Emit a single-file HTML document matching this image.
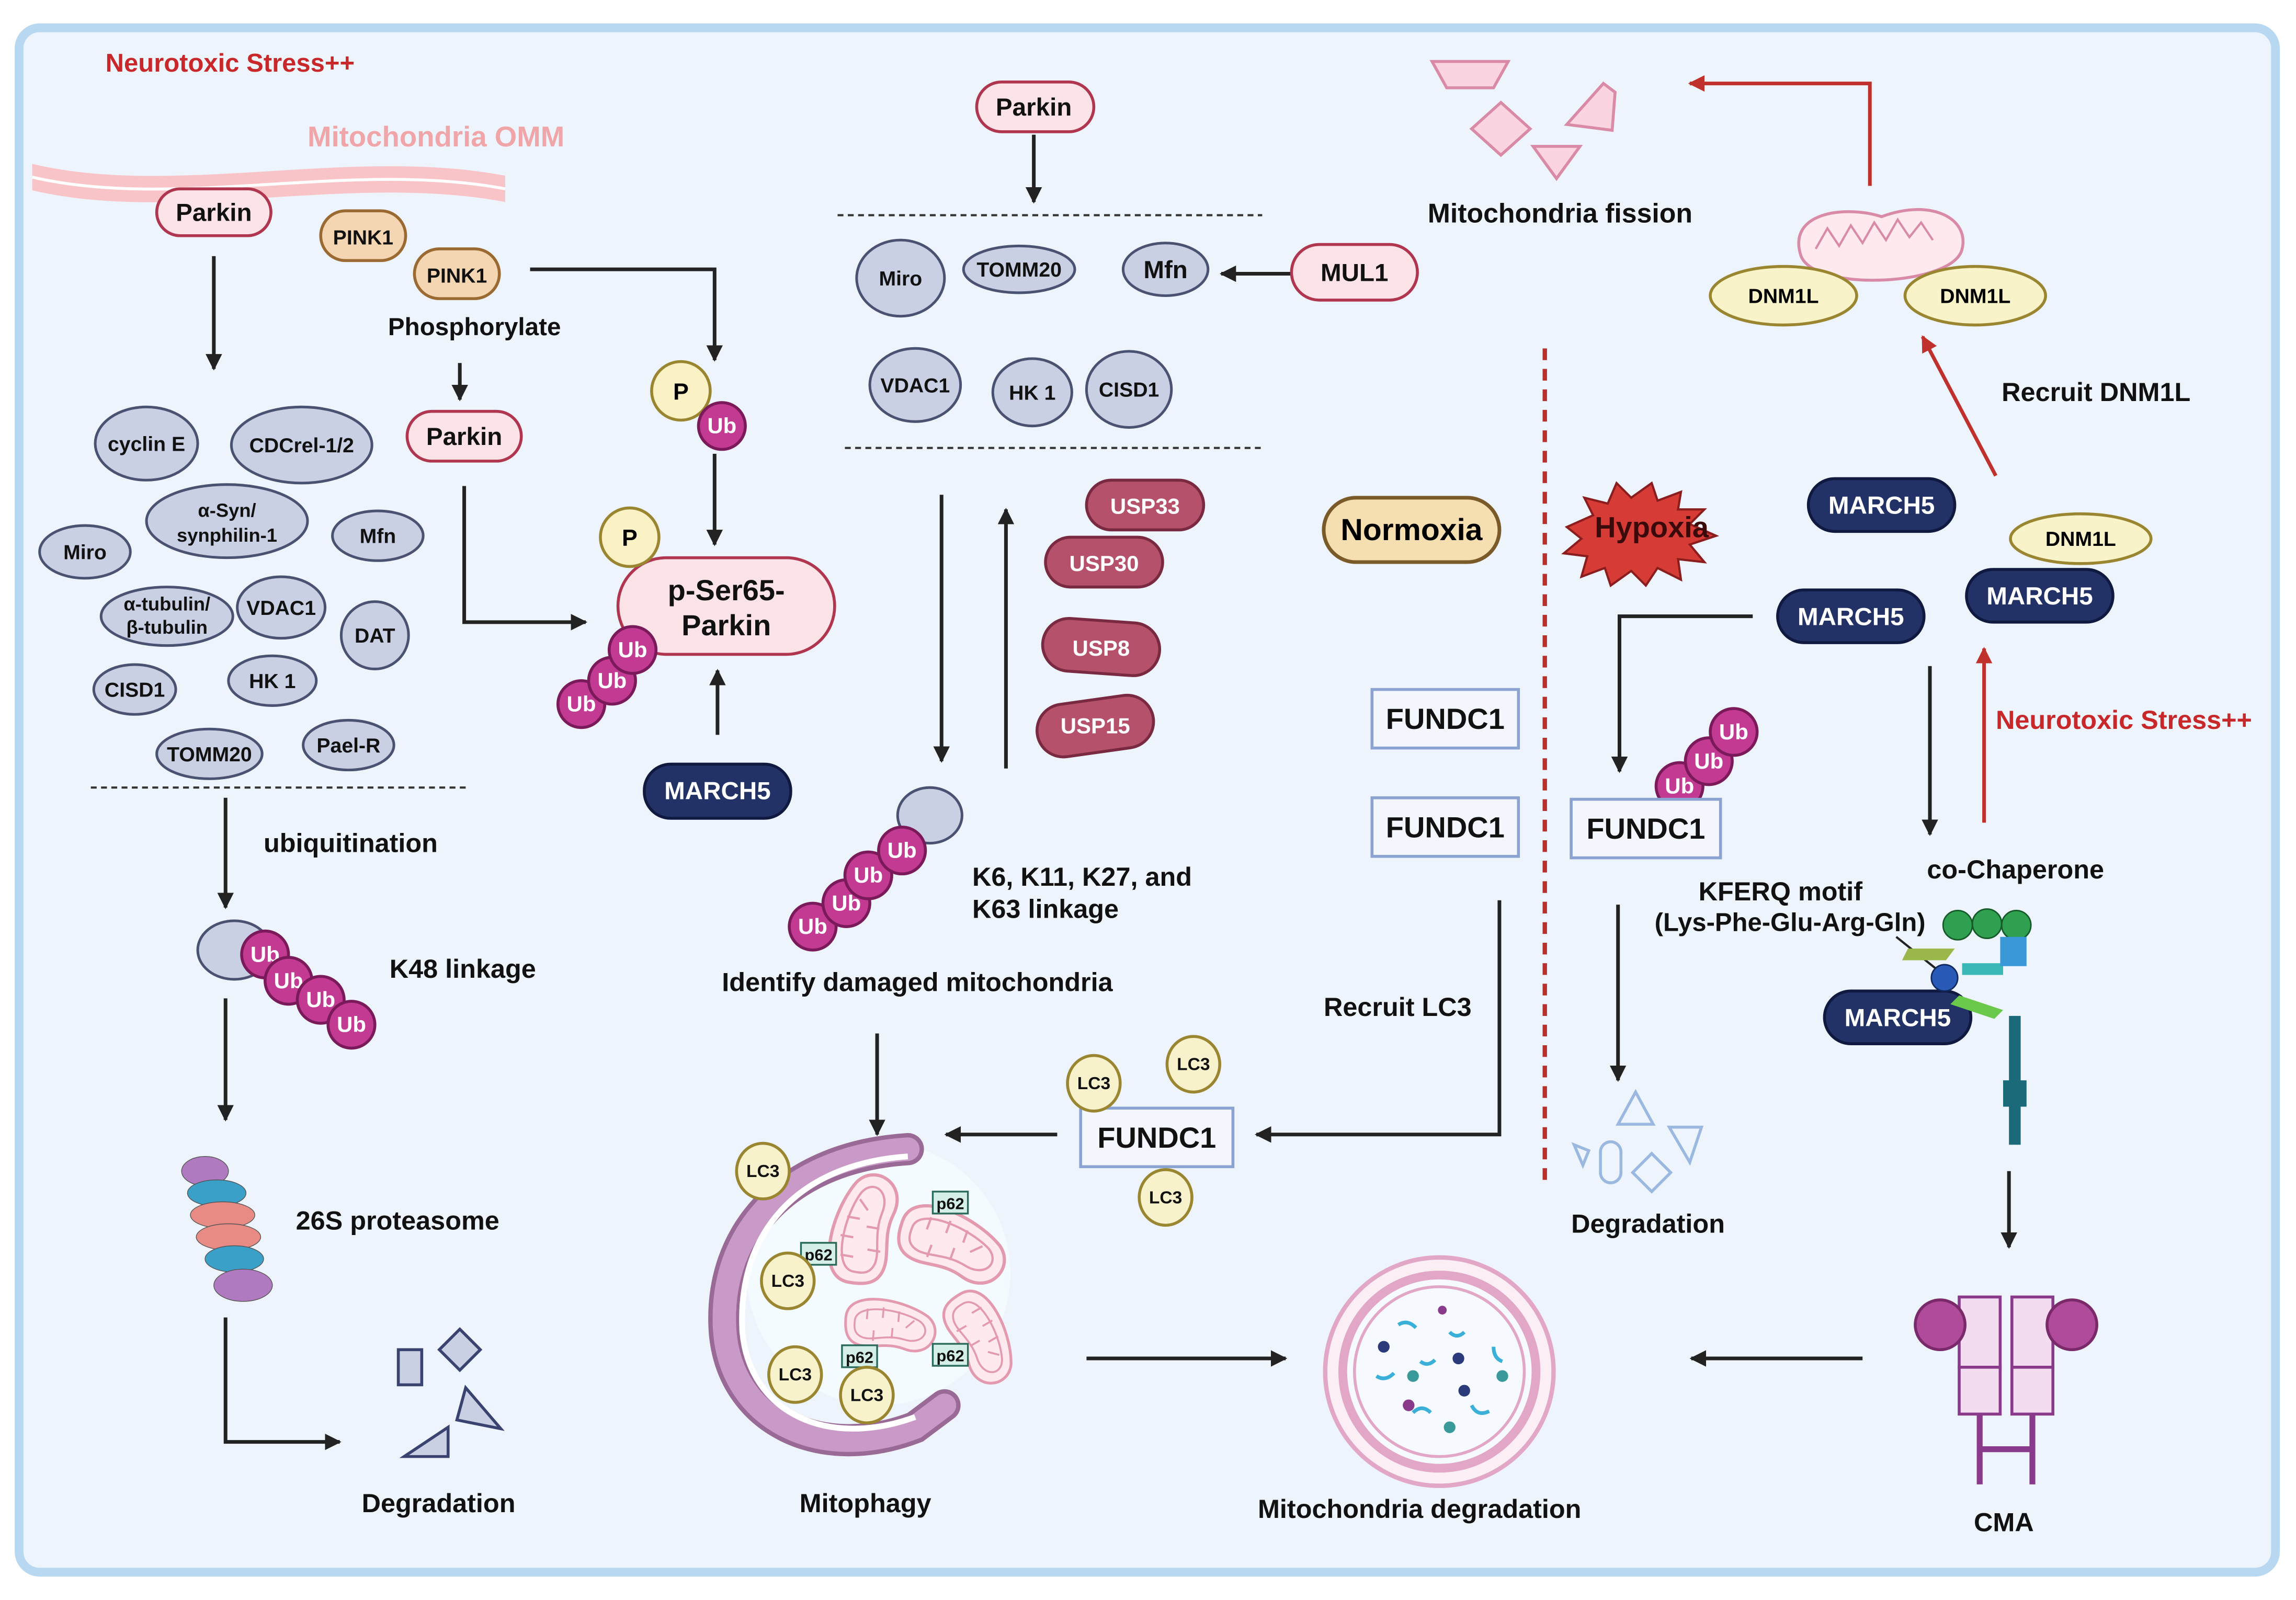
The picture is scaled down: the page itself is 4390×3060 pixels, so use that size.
<!DOCTYPE html>
<html><head><meta charset="utf-8"><style>
html,body{margin:0;padding:0;background:#fff}
svg{display:block}
text{font-family:"Liberation Sans",sans-serif;font-weight:bold}
</style></head><body>
<svg width="4390" height="3060" viewBox="0 0 1568 1093" xmlns="http://www.w3.org/2000/svg">
<defs>
<marker id="a" viewBox="0 0 10 10" refX="9" refY="5" markerWidth="4.5" markerHeight="4.5" orient="auto"><path d="M0,0L10,5L0,10z" fill="#222"/></marker>
<marker id="r" viewBox="0 0 10 10" refX="9" refY="5" markerWidth="4.5" markerHeight="4.5" orient="auto"><path d="M0,0L10,5L0,10z" fill="#c0302c"/></marker>
<g id="ub"><circle r="16" fill="#c23a92" stroke="#7a1a5a" stroke-width="2"/><text y="5" text-anchor="middle" font-size="15" fill="#fff">Ub</text></g>
<g id="lc3"><ellipse rx="18" ry="19" fill="#f8f2cc" stroke="#9a8530" stroke-width="2"/><text y="4" text-anchor="middle" font-size="12" fill="#111">LC3</text></g>
<g id="mito"><path d="M-32,-4 C-32,-26 10,-22 30,-10 C44,0 34,22 14,16 C0,12 -10,18 -20,16 C-30,14 -32,6 -32,-4Z" fill="#fde9ee" stroke="#e39aae" stroke-width="2"/><path d="M-25,-2 C-25,-16 8,-14 24,-6 C34,0 28,12 14,9 C0,6 -10,12 -18,10 C-25,8 -25,3 -25,-2Z" fill="none" stroke="#e39aae" stroke-width="1.4"/><path d="M-16,-12v8M-4,-14v8M8,-12v8M20,-6l-6,6M-10,12v-8M4,9v-8" stroke="#e39aae" stroke-width="1.4"/></g>
</defs>
<rect width="1568" height="1093" fill="#fff"/>
<rect x="13" y="19" width="1541" height="1055" rx="14" fill="#eef4fc" stroke="#b8d8f1" stroke-width="6"/>
<g stroke="#222" stroke-width="2.5" fill="none" marker-end="url(#a)">
<path d="M146,175V252"/><path d="M314,248V273"/><path d="M362,184H488V246"/><path d="M488,310V372"/>
<path d="M317,332V425H400"/><path d="M490,502V458"/><path d="M706,92V138"/><path d="M882,187H834"/>
<path d="M643,338V520"/><path d="M687,525V348"/><path d="M154,545V620"/><path d="M154,682V765"/>
<path d="M154,900V985H232"/><path d="M599,706V775"/><path d="M722,775H646"/><path d="M1024,615V775H858"/>
<path d="M742,928H878"/><path d="M1272,928H1155"/><path d="M1197,421H1106V527"/><path d="M1105,618V738"/>
<path d="M1318,455V570"/><path d="M1372,800V852"/>
</g>
<g stroke="#c0302c" stroke-width="2.5" fill="none" marker-end="url(#r)">
<path d="M1277,127V57H1154"/><path d="M1363,325L1313,230"/><path d="M1355,562V443"/>
</g>
<g stroke="#333" stroke-width="1.5" stroke-dasharray="4,3"><path d="M62,538H320"/><path d="M572,147H862"/><path d="M577,306H862"/></g>
<path d="M1055,238V812" stroke="#b8302e" stroke-width="3" stroke-dasharray="8,6"/>
<text x="72" y="49" font-size="17.5" fill="#c8282a">Neurotoxic Stress++</text>
<path d="M22,112 C120,135 240,100 345,120 L345,138 C240,118 120,153 22,130Z" fill="#f9c4c8"/>
<path d="M22,121 C120,144 240,109 345,129" stroke="#fff" stroke-width="2" fill="none"/>
<text x="210" y="100" font-size="19.5" fill="#f0a5a8">Mitochondria OMM</text>
<g stroke-width="2">
<rect x="107" y="129" width="78" height="32" rx="16" fill="#fbe3e8" stroke="#b0354f"/>
<rect x="219" y="144" width="58" height="34" rx="17" fill="#f5d6b2" stroke="#9a6a32"/>
<rect x="283" y="170" width="58" height="34" rx="17" fill="#f5d6b2" stroke="#9a6a32"/>
<rect x="278" y="281" width="78" height="34" rx="17" fill="#fbe3e8" stroke="#b0354f"/>
<rect x="667" y="56" width="80" height="34" rx="17" fill="#fbe3e8" stroke="#b0354f"/>
<rect x="882" y="167" width="86" height="38" rx="19" fill="#fbe3e8" stroke="#b0354f"/>
<rect x="422" y="381" width="148" height="66" rx="33" fill="#fbe3e8" stroke="#b0354f"/>
</g>
<g font-size="17" text-anchor="middle" fill="#111">
<text x="146" y="151">Parkin</text><text x="248" y="167" font-size="14">PINK1</text><text x="312" y="193" font-size="14">PINK1</text>
<text x="317" y="304">Parkin</text><text x="706" y="79">Parkin</text><text x="925" y="192">MUL1</text>
<text x="496" y="410" font-size="20">p-Ser65-</text><text x="496" y="434" font-size="20">Parkin</text>
<text x="324" y="229" font-size="17">Phosphorylate</text>
</g>
<g fill="#c9d0e3" stroke="#4a5272" stroke-width="1.8">
<ellipse cx="100" cy="303" rx="35" ry="25"/><ellipse cx="206" cy="304" rx="48" ry="26"/><ellipse cx="155" cy="356" rx="55" ry="25"/>
<ellipse cx="58" cy="377" rx="31" ry="18"/><ellipse cx="258" cy="366" rx="31" ry="17"/><ellipse cx="114" cy="421" rx="45" ry="20"/>
<ellipse cx="192" cy="415" rx="30" ry="21"/><ellipse cx="256" cy="434" rx="23" ry="23"/><ellipse cx="92" cy="471" rx="28" ry="17"/>
<ellipse cx="186" cy="465" rx="30" ry="17"/><ellipse cx="143" cy="515" rx="36" ry="17"/><ellipse cx="238" cy="509" rx="31" ry="17"/>
<ellipse cx="160" cy="649" rx="25" ry="20"/>
<ellipse cx="615" cy="190" rx="30" ry="26"/><ellipse cx="696" cy="184" rx="38" ry="16"/><ellipse cx="796" cy="184" rx="29" ry="18"/>
<ellipse cx="625" cy="263" rx="31" ry="25"/><ellipse cx="705" cy="268" rx="27" ry="23"/><ellipse cx="771" cy="266" rx="29" ry="26"/>
<ellipse cx="635" cy="557" rx="22" ry="19"/>
</g>
<g font-size="14" text-anchor="middle" fill="#111">
<text x="100" y="308">cyclin E</text><text x="206" y="309">CDCrel-1/2</text><text x="155" y="353" font-size="13">α-Syn/</text><text x="155" y="370" font-size="13">synphilin-1</text>
<text x="58" y="382">Miro</text><text x="258" y="371">Mfn</text><text x="114" y="417" font-size="13">α-tubulin/</text><text x="114" y="433" font-size="13">β-tubulin</text>
<text x="192" y="420">VDAC1</text><text x="256" y="439">DAT</text><text x="92" y="476">CISD1</text><text x="186" y="470">HK 1</text>
<text x="143" y="520">TOMM20</text><text x="238" y="514">Pael-R</text>
<text x="615" y="195">Miro</text><text x="696" y="189">TOMM20</text><text x="796" y="190" font-weight="normal" font-size="17">Mfn</text>
<text x="625" y="268">VDAC1</text><text x="705" y="273">HK 1</text><text x="771" y="271">CISD1</text>
</g>
<g font-size="18" fill="#111">
<text x="180" y="582">ubiquitination</text><text x="266" y="668">K48 linkage</text><text x="202" y="840">26S proteasome</text>
<text x="247" y="1033">Degradation</text><text x="664" y="605">K6, K11, K27, and</text><text x="664" y="627">K63 linkage</text>
<text x="493" y="677">Identify damaged mitochondria</text><text x="546" y="1033">Mitophagy</text><text x="904" y="694">Recruit LC3</text>
<text x="859" y="1037">Mitochondria degradation</text><text x="975" y="152" font-size="18.5">Mitochondria fission</text>
<text x="1367" y="274">Recruit DNM1L</text><text x="1073" y="842">Degradation</text><text x="1316" y="600">co-Chaperone</text>
<text x="1160" y="615">KFERQ motif</text><text x="1130" y="636" font-weight="normal" font-size="17.5">(Lys-Phe-Glu-Arg-Gln)</text>
<text x="1348" y="1046">CMA</text><text x="1363" y="498" fill="#c8282a">Neurotoxic Stress++</text>
</g>
<use href="#ub" x="181" y="652"/><use href="#ub" x="197" y="670"/><use href="#ub" x="219" y="683"/><use href="#ub" x="240" y="700"/>
<use href="#ub" x="555" y="633"/><use href="#ub" x="578" y="617"/><use href="#ub" x="593" y="598"/><use href="#ub" x="616" y="581"/>
<use href="#ub" x="397" y="481"/><use href="#ub" x="418" y="465"/><use href="#ub" x="432" y="444"/>
<use href="#ub" x="1147" y="537"/><use href="#ub" x="1167" y="520"/><use href="#ub" x="1184" y="500"/>
<g fill="#faf1c4" stroke="#9a8530" stroke-width="2"><circle cx="465" cy="267" r="20"/><circle cx="430" cy="367" r="20"/></g>
<text x="465" y="273" font-size="16" text-anchor="middle">P</text><text x="430" y="373" font-size="16" text-anchor="middle">P</text>
<use href="#ub" x="493" y="291"/>
<g fill="#b5516b" stroke="#7a2a40" stroke-width="2">
<rect x="742" y="328" width="80" height="34" rx="17"/><rect x="714" y="367" width="80" height="34" rx="17"/>
<rect x="712" y="424" width="80" height="36" rx="18" transform="rotate(4 752 442)"/><rect x="708" y="478" width="80" height="36" rx="18" transform="rotate(-8 748 496)"/>
</g>
<g font-size="15" fill="#fff" text-anchor="middle"><text x="782" y="351">USP33</text><text x="754" y="390">USP30</text><text x="752" y="448">USP8</text><text x="748" y="501">USP15</text></g>
<g fill="#233266" stroke="#101a40" stroke-width="2">
<rect x="440" y="522" width="100" height="37" rx="18"/><rect x="1235" y="327" width="100" height="36" rx="18"/>
<rect x="1214" y="403" width="100" height="36" rx="18"/><rect x="1343" y="389" width="100" height="36" rx="18"/><rect x="1246" y="677" width="100" height="36" rx="18"/>
</g>
<g font-size="17" fill="#fff" text-anchor="middle"><text x="490" y="546">MARCH5</text><text x="1285" y="351">MARCH5</text><text x="1264" y="427">MARCH5</text><text x="1393" y="413">MARCH5</text><text x="1296" y="701">MARCH5</text></g>
<g fill="#f3f6fc" stroke="#8aa3d2" stroke-width="2">
<rect x="937" y="471" width="100" height="40"/><rect x="937" y="545" width="100" height="40"/><rect x="738" y="757" width="104" height="40"/><rect x="1073" y="546" width="102" height="40"/>
</g>
<g font-size="20" text-anchor="middle" fill="#111"><text x="987" y="498">FUNDC1</text><text x="987" y="572">FUNDC1</text><text x="790" y="784">FUNDC1</text><text x="1124" y="573">FUNDC1</text></g>
<use href="#lc3" x="747" y="740"/><use href="#lc3" x="815" y="727"/><use href="#lc3" x="796" y="818"/>
<rect x="904" y="340" width="120" height="44" rx="22" fill="#f5deb0" stroke="#7a5a28" stroke-width="2.5"/>
<text x="964" y="369" font-size="21" text-anchor="middle">Normoxia</text>
<path d="M1070,360 l18,-8 -6,-12 16,4 6,-14 10,10 14,-10 4,12 16,-6 -2,12 18,0 -10,10 18,8 -18,6 10,12 -18,-2 2,14 -16,-8 -8,12 -10,-10 -14,10 -4,-12 -16,6 4,-14 -16,-2 12,-10z" fill="#d63b36" stroke="#8a1e1e" stroke-width="1.5"/>
<text x="1128" y="367" font-size="20" text-anchor="middle" fill="#3a0a0a">Hypoxia</text>
<!-- proteasome -->
<g stroke="#555" stroke-width="0.5">
<ellipse cx="140" cy="800" rx="16" ry="10" fill="#b07ac0"/><ellipse cx="148" cy="815" rx="20" ry="9" fill="#3aa0c8"/><ellipse cx="152" cy="830" rx="22" ry="9" fill="#e88b84"/>
<ellipse cx="156" cy="845" rx="22" ry="9" fill="#e88b84"/><ellipse cx="160" cy="860" rx="20" ry="9" fill="#3aa0c8"/><ellipse cx="166" cy="878" rx="20" ry="11" fill="#b07ac0"/>
</g>
<g fill="#c9d0e3" stroke="#3a4270" stroke-width="2"><rect x="272" y="922" width="16" height="24"/><path d="M300,922l14,-14 14,14 -14,14z"/><path d="M318,948l24,28 -30,-6z"/><path d="M276,995l30,-20 0,20z"/></g>
<!-- mitophagy -->
<circle cx="600" cy="870" r="90" fill="#f4fbfe"/>
<path d="M620,785 C540,790 490,840 495,910 C500,970 560,1000 625,975 L645,960" fill="none" stroke="#9a6a96" stroke-width="22" stroke-linecap="round"/>
<path d="M620,785 C540,790 490,840 495,910 C500,970 560,1000 625,975 L645,960" fill="none" stroke="#c99ac8" stroke-width="16" stroke-linecap="round"/>
<path d="M620,790 C545,795 503,842 507,910 C512,965 565,990 625,968" fill="none" stroke="#fff" stroke-width="4"/>
<use href="#mito" transform="translate(590,842) rotate(-80) scale(1.1)"/><use href="#mito" transform="translate(648,850) rotate(20) scale(1.1)"/>
<use href="#mito" transform="translate(606,906) rotate(5) scale(0.9)"/><use href="#mito" transform="translate(668,912) rotate(60) scale(0.95)"/>
<g fill="#d4efe8" stroke="#2a6a5a" stroke-width="1.2" font-size="10">
<rect x="637" y="814" width="24" height="15"/><rect x="547" y="849" width="24" height="15"/><rect x="575" y="919" width="24" height="15"/><rect x="637" y="918" width="24" height="15"/>
</g>
<g font-size="11" text-anchor="middle" fill="#111"><text x="649" y="826">p62</text><text x="559" y="861">p62</text><text x="587" y="931">p62</text><text x="649" y="930">p62</text></g>
<use href="#lc3" x="521" y="800"/><use href="#lc3" x="538" y="875"/><use href="#lc3" x="543" y="939"/><use href="#lc3" x="592" y="953"/>
<!-- lysosome -->
<circle cx="983" cy="937" r="78" fill="#fbeef5" stroke="#e2a7c6" stroke-width="3"/>
<circle cx="983" cy="937" r="66" fill="#f6fafe" stroke="#e2a7c6" stroke-width="6"/>
<circle cx="983" cy="937" r="58" fill="#f6fafe" stroke="#e2a7c6" stroke-width="2"/>
<g fill="none" stroke="#3ab0d8" stroke-width="2.5"><path d="M955,905q6,-4 12,2"/><path d="M990,910q5,5 10,0"/><path d="M940,940q6,4 12,-2"/><path d="M965,965q6,-6 12,0"/><path d="M1005,960q4,8 12,4"/><path d="M1020,920q0,8 6,10"/><path d="M970,930q5,4 10,-1"/></g>
<g><circle cx="945" cy="920" r="4" fill="#2a3a7a"/><circle cx="996" cy="928" r="4" fill="#2a3a7a"/><circle cx="962" cy="960" r="4" fill="#8a3a8a"/><circle cx="1026" cy="940" r="4" fill="#3a9a9a"/><circle cx="985" cy="895" r="3" fill="#8a3a8a"/><circle cx="990" cy="975" r="4" fill="#3a9a9a"/><circle cx="1000" cy="950" r="4" fill="#2a3a7a"/><circle cx="965" cy="940" r="4" fill="#3a9a9a"/></g>
<!-- fission -->
<g fill="#fbd4e1" stroke="#d98aa6" stroke-width="2">
<path d="M978,42h52l-10,18h-32z"/><path d="M1025,70l20,18 -20,18 -20,-18z"/><path d="M1070,85l25,-28 8,6 -2,26z"/><path d="M1047,100h32l-16,22z"/>
</g>
<path d="M1230,175 C1220,145 1260,140 1285,148 C1320,135 1345,150 1340,170 C1335,195 1240,200 1230,175Z" fill="#fde9ee" stroke="#d98aa6" stroke-width="2"/>
<path d="M1240,170 l8,-14 8,12 8,-14 8,12 8,-14 8,12 8,-14 8,12 8,-10 8,12" fill="none" stroke="#d98aa6" stroke-width="1.5"/>
<g fill="#f8f3c8" stroke="#9a8530" stroke-width="2"><ellipse cx="1218" cy="202" rx="50" ry="20"/><ellipse cx="1349" cy="202" rx="48" ry="20"/><ellipse cx="1421" cy="368" rx="48" ry="17"/></g>
<g font-size="14" text-anchor="middle"><text x="1218" y="207">DNM1L</text><text x="1349" y="207">DNM1L</text><text x="1421" y="373">DNM1L</text></g>
<!-- degradation right -->
<g fill="none" stroke="#9ab8e0" stroke-width="2"><path d="M1105,768l12,-22 12,22z"/><rect x="1093" y="780" width="14" height="28" rx="7"/><path d="M1128,788l13,13 -13,13 -13,-13z"/><path d="M1140,770h22l-8,24z"/><path d="M1075,782l10,4 -4,10z"/></g>
<!-- chaperone -->
<path d="M1330,668 L1295,640" stroke="#222" stroke-width="1.5"/>
<g><circle cx="1337" cy="632" r="10" fill="#2fa050" stroke="#155a28"/><circle cx="1357" cy="631" r="10" fill="#2fa050" stroke="#155a28"/><circle cx="1377" cy="632" r="10" fill="#2fa050" stroke="#155a28"/>
<path d="M1303,648h32l-6,8h-30z" fill="#9ab84a"/><rect x="1340" y="658" width="28" height="8" fill="#3ab8b8"/><rect x="1366" y="640" width="18" height="20" fill="#3a98d8"/>
<path d="M1338,680l30,10 -6,6 -30,-10z" fill="#6ac84a"/><circle cx="1328" cy="668" r="9" fill="#2a5ab8" stroke="#102a60"/>
<rect x="1372" y="694" width="8" height="88" fill="#1a6a7a"/><rect x="1368" y="738" width="16" height="18" fill="#1a6a7a"/></g>
<!-- CMA receptor -->
<g stroke="#8a3a8a" stroke-width="2" fill="#f3dcf0">
<rect x="1338" y="886" width="28" height="48"/><rect x="1374" y="886" width="28" height="48"/><rect x="1338" y="934" width="28" height="32"/><rect x="1374" y="934" width="28" height="32"/>
<path d="M1352,966v48M1388,966v48M1352,990h36" fill="none" stroke-width="4"/>
</g>
<circle cx="1325" cy="905" r="17" fill="#b04a9a" stroke="#7a2a6a" stroke-width="2"/><circle cx="1415" cy="905" r="17" fill="#b04a9a" stroke="#7a2a6a" stroke-width="2"/>
</svg>
</body></html>
